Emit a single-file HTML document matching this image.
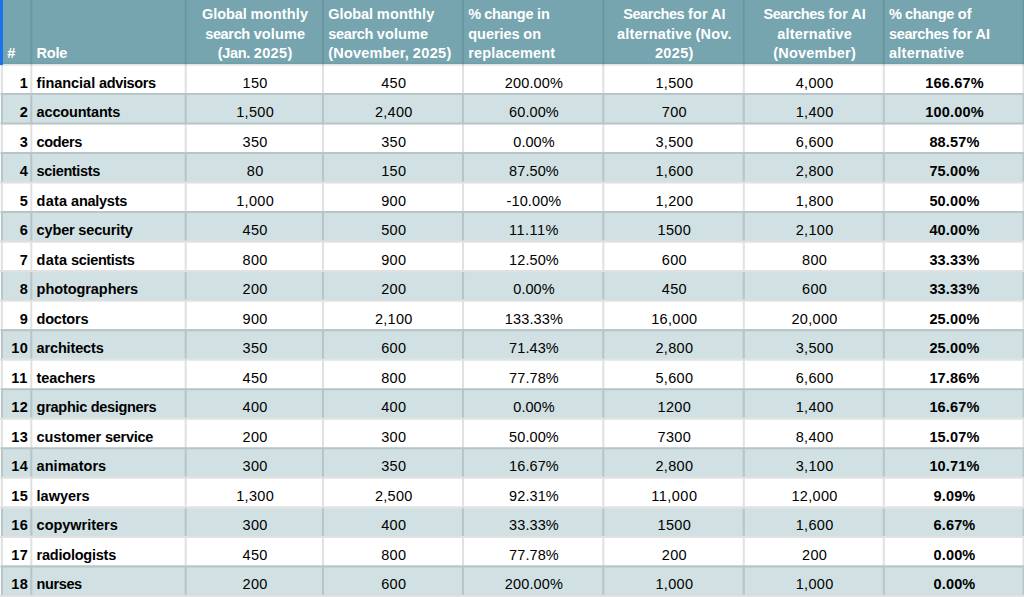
<!DOCTYPE html>
<html lang="en"><head><meta charset="utf-8"><title>AI replacement searches by role</title>
<style>
html,body{margin:0;padding:0;background:#fff;}
body{width:1024px;height:597px;overflow:hidden;position:relative;font-family:"Liberation Sans",Arial,sans-serif;color:#000;}
#sheet{position:absolute;left:0;top:0;width:1024px;height:597px;overflow:hidden;}
.sel{position:absolute;left:0;top:0;width:2.85px;height:65.4px;background:#1a73e8;}
#grid{position:absolute;left:0;top:0;}
.c{position:absolute;white-space:nowrap;height:20px;line-height:20px;font-size:14.5px;}
.b{font-weight:bold;font-size:14.5px;}
.ctr{text-align:center;}
.rgt{text-align:right;}
.h{position:absolute;color:#fff;font-weight:bold;font-size:14.5px;line-height:20px;height:20px;white-space:nowrap;}

</style></head><body><div id="sheet" role="table" aria-label="Searches about AI replacing roles">
<svg id="grid" aria-hidden="true" width="1024" height="597" viewBox="0 0 1024 597"><rect x="0" y="0" width="1024" height="64.0" fill="#76a5af"/><rect x="0.95" y="92.92" width="1024" height="31.62" fill="#d0e0e3"/><rect x="0.95" y="151.97" width="1024" height="29.53" fill="#d0e0e3"/><rect x="0.95" y="211.02" width="1024" height="29.52" fill="#d0e0e3"/><rect x="0.95" y="272.18" width="1024" height="27.42" fill="#d0e0e3"/><rect x="0.95" y="329.12" width="1024" height="29.53" fill="#d0e0e3"/><rect x="0.95" y="388.17" width="1024" height="29.52" fill="#d0e0e3"/><rect x="0.95" y="447.22" width="1024" height="29.52" fill="#d0e0e3"/><rect x="0.95" y="508.38" width="1024" height="27.43" fill="#d0e0e3"/><rect x="0.95" y="565.33" width="1024" height="29.52" fill="#d0e0e3"/><rect x="0" y="62.5" width="1024" height="1.6" fill="#000" fill-opacity="0.035"/><rect x="0" y="64.0" width="1024" height="1.65" fill="#e5e4e4"/><path d="M0 92.92h1024v2.10h-1024zM0 122.45h1024v2.10h-1024zM0 151.97h1024v2.10h-1024zM0 181.50h1024v2.10h-1024zM0 211.02h1024v2.10h-1024zM0 240.55h1024v2.10h-1024zM0 270.07h1024v2.10h-1024zM0 299.60h1024v2.10h-1024zM0 329.12h1024v2.10h-1024zM0 358.65h1024v2.10h-1024zM0 388.17h1024v2.10h-1024zM0 417.70h1024v2.10h-1024zM0 447.22h1024v2.10h-1024zM0 476.75h1024v2.10h-1024zM0 506.27h1024v2.10h-1024zM0 535.80h1024v2.10h-1024zM0 565.33h1024v2.10h-1024zM0 594.85h1024v2.10h-1024zM0.85 64h2.10v533h-2.10zM30.25 64h2.10v533h-2.10zM184.65 64h2.10v533h-2.10zM321.95 64h2.10v533h-2.10zM461.95 64h2.10v533h-2.10zM602.25 64h2.10v533h-2.10zM742.75 64h2.10v533h-2.10zM882.75 64h2.10v533h-2.10zM1022.55 64h2.10v533h-2.10z" fill="#000" fill-opacity="0.118"/><path d="M0.85 0h2.10v64h-2.10zM30.25 0h2.10v64h-2.10zM184.65 0h2.10v64h-2.10zM321.95 0h2.10v64h-2.10zM461.95 0h2.10v64h-2.10zM602.25 0h2.10v64h-2.10zM742.75 0h2.10v64h-2.10zM882.75 0h2.10v64h-2.10zM1022.55 0h2.10v64h-2.10z" fill="#000" fill-opacity="0.085"/></svg>
<div class="sel"></div>
<div role="row">
<div role="columnheader">
<div class="h" style="left:7.20px;top:43.08px;letter-spacing:0.19px;">#</div>
</div>
<div role="columnheader">
<div class="h" style="left:36.60px;top:43.08px;letter-spacing:-0.25px;">Role</div>
</div>
<div role="columnheader">
<div class="h" style="left:186.50px;width:137.30px;text-align:center;top:4.18px;word-spacing:-0.27px;"><span style="letter-spacing:-0.06px">Global</span> <span style="letter-spacing:0.20px">monthly</span></div>
<div class="h" style="left:186.50px;width:137.30px;text-align:center;top:24.08px;word-spacing:-0.27px;"><span style="letter-spacing:-0.34px">search</span> <span style="letter-spacing:0.12px">volume</span></div>
<div class="h" style="left:186.50px;width:137.30px;text-align:center;top:43.08px;word-spacing:-0.27px;"><span style="letter-spacing:-0.32px">(Jan.</span> <span style="letter-spacing:0.35px">2025)</span></div>
</div>
<div role="columnheader">
<div class="h" style="left:328.30px;top:4.18px;word-spacing:-0.27px;"><span style="letter-spacing:-0.06px">Global</span> <span style="letter-spacing:0.20px">monthly</span></div>
<div class="h" style="left:328.30px;top:24.08px;word-spacing:-0.27px;"><span style="letter-spacing:-0.34px">search</span> <span style="letter-spacing:0.12px">volume</span></div>
<div class="h" style="left:328.30px;top:43.08px;word-spacing:-0.27px;"><span style="letter-spacing:0.18px">(November,</span> <span style="letter-spacing:0.35px">2025)</span></div>
</div>
<div role="columnheader">
<div class="h" style="left:468.30px;top:4.18px;word-spacing:-0.27px;"><span style="letter-spacing:-0.79px">%</span> <span style="letter-spacing:-0.29px">change</span> <span style="letter-spacing:0.05px">in</span></div>
<div class="h" style="left:468.30px;top:24.08px;word-spacing:-0.27px;"><span style="letter-spacing:-0.06px">queries</span> <span style="letter-spacing:0.06px">on</span></div>
<div class="h" style="left:468.30px;top:43.08px;letter-spacing:0.14px;">replacement</div>
</div>
<div role="columnheader">
<div class="h" style="left:604.10px;width:140.50px;text-align:center;top:4.18px;word-spacing:-0.27px;"><span style="letter-spacing:-0.45px">Searches</span> <span style="letter-spacing:0.16px">for</span> AI</div>
<div class="h" style="left:604.10px;width:140.50px;text-align:center;top:24.08px;word-spacing:-0.27px;"><span style="letter-spacing:0.21px">alternative</span> <span style="letter-spacing:0.19px">(Nov.</span></div>
<div class="h" style="left:604.10px;width:140.50px;text-align:center;top:43.08px;letter-spacing:0.35px;">2025)</div>
</div>
<div role="columnheader">
<div class="h" style="left:744.60px;width:140.00px;text-align:center;top:4.18px;word-spacing:-0.27px;"><span style="letter-spacing:-0.45px">Searches</span> <span style="letter-spacing:0.16px">for</span> AI</div>
<div class="h" style="left:744.60px;width:140.00px;text-align:center;top:24.08px;letter-spacing:0.21px;">alternative</div>
<div class="h" style="left:744.60px;width:140.00px;text-align:center;top:43.08px;letter-spacing:0.23px;">(November)</div>
</div>
<div role="columnheader">
<div class="h" style="left:889.10px;top:4.18px;word-spacing:-0.27px;"><span style="letter-spacing:-0.79px">%</span> <span style="letter-spacing:-0.29px">change</span> <span style="letter-spacing:0.25px">of</span></div>
<div class="h" style="left:889.10px;top:24.08px;word-spacing:-0.27px;"><span style="letter-spacing:-0.40px">searches</span> <span style="letter-spacing:0.16px">for</span> AI</div>
<div class="h" style="left:889.10px;top:43.08px;letter-spacing:0.21px;">alternative</div>
</div>
</div>
<div role="row">
<div role="cell" class="c b rgt" style="left:2.40px;width:25.80px;top:72.58px;letter-spacing:0.34px;">1</div>
<div role="cell" class="c b" style="left:36.60px;top:72.58px;word-spacing:-0.27px;"><span style="letter-spacing:-0.03px">financial</span> <span style="letter-spacing:-0.34px">advisors</span></div>
<div role="cell" class="c ctr" style="left:186.50px;width:137.30px;top:72.58px;letter-spacing:0.35px;">150</div>
<div role="cell" class="c ctr" style="left:323.80px;width:140.00px;top:72.58px;letter-spacing:0.35px;">450</div>
<div role="cell" class="c ctr" style="left:463.80px;width:140.30px;top:72.58px;letter-spacing:0.13px;">200.00%</div>
<div role="cell" class="c ctr" style="left:604.10px;width:140.50px;top:72.58px;letter-spacing:0.31px;">1,500</div>
<div role="cell" class="c ctr" style="left:744.60px;width:140.00px;top:72.58px;letter-spacing:0.31px;">4,000</div>
<div role="cell" class="c b ctr" style="left:884.60px;width:139.80px;top:72.58px;letter-spacing:0.20px;">166.67%</div>
</div>
<div role="row">
<div role="cell" class="c b rgt" style="left:2.40px;width:25.80px;top:102.08px;letter-spacing:0.34px;">2</div>
<div role="cell" class="c b" style="left:36.60px;top:102.08px;letter-spacing:-0.17px;">accountants</div>
<div role="cell" class="c ctr" style="left:186.50px;width:137.30px;top:102.08px;letter-spacing:0.31px;">1,500</div>
<div role="cell" class="c ctr" style="left:323.80px;width:140.00px;top:102.08px;letter-spacing:0.31px;">2,400</div>
<div role="cell" class="c ctr" style="left:463.80px;width:140.30px;top:102.08px;letter-spacing:0.09px;">60.00%</div>
<div role="cell" class="c ctr" style="left:604.10px;width:140.50px;top:102.08px;letter-spacing:0.35px;">700</div>
<div role="cell" class="c ctr" style="left:744.60px;width:140.00px;top:102.08px;letter-spacing:0.31px;">1,400</div>
<div role="cell" class="c b ctr" style="left:884.60px;width:139.80px;top:102.08px;letter-spacing:0.20px;">100.00%</div>
</div>
<div role="row">
<div role="cell" class="c b rgt" style="left:2.40px;width:25.80px;top:131.58px;letter-spacing:0.34px;">3</div>
<div role="cell" class="c b" style="left:36.60px;top:131.58px;letter-spacing:-0.36px;">coders</div>
<div role="cell" class="c ctr" style="left:186.50px;width:137.30px;top:131.58px;letter-spacing:0.35px;">350</div>
<div role="cell" class="c ctr" style="left:323.80px;width:140.00px;top:131.58px;letter-spacing:0.35px;">350</div>
<div role="cell" class="c ctr" style="left:463.80px;width:140.30px;top:131.58px;letter-spacing:0.04px;">0.00%</div>
<div role="cell" class="c ctr" style="left:604.10px;width:140.50px;top:131.58px;letter-spacing:0.31px;">3,500</div>
<div role="cell" class="c ctr" style="left:744.60px;width:140.00px;top:131.58px;letter-spacing:0.31px;">6,600</div>
<div role="cell" class="c b ctr" style="left:884.60px;width:139.80px;top:131.58px;letter-spacing:0.17px;">88.57%</div>
</div>
<div role="row">
<div role="cell" class="c b rgt" style="left:2.40px;width:25.80px;top:161.08px;letter-spacing:0.34px;">4</div>
<div role="cell" class="c b" style="left:36.60px;top:161.08px;letter-spacing:-0.36px;">scientists</div>
<div role="cell" class="c ctr" style="left:186.50px;width:137.30px;top:161.08px;letter-spacing:0.35px;">80</div>
<div role="cell" class="c ctr" style="left:323.80px;width:140.00px;top:161.08px;letter-spacing:0.35px;">150</div>
<div role="cell" class="c ctr" style="left:463.80px;width:140.30px;top:161.08px;letter-spacing:0.09px;">87.50%</div>
<div role="cell" class="c ctr" style="left:604.10px;width:140.50px;top:161.08px;letter-spacing:0.31px;">1,600</div>
<div role="cell" class="c ctr" style="left:744.60px;width:140.00px;top:161.08px;letter-spacing:0.31px;">2,800</div>
<div role="cell" class="c b ctr" style="left:884.60px;width:139.80px;top:161.08px;letter-spacing:0.17px;">75.00%</div>
</div>
<div role="row">
<div role="cell" class="c b rgt" style="left:2.40px;width:25.80px;top:190.58px;letter-spacing:0.34px;">5</div>
<div role="cell" class="c b" style="left:36.60px;top:190.58px;word-spacing:-0.27px;"><span style="letter-spacing:0.23px">data</span> <span style="letter-spacing:-0.26px">analysts</span></div>
<div role="cell" class="c ctr" style="left:186.50px;width:137.30px;top:190.58px;letter-spacing:0.31px;">1,000</div>
<div role="cell" class="c ctr" style="left:323.80px;width:140.00px;top:190.58px;letter-spacing:0.35px;">900</div>
<div role="cell" class="c ctr" style="left:463.80px;width:140.30px;top:190.58px;letter-spacing:0.11px;">-10.00%</div>
<div role="cell" class="c ctr" style="left:604.10px;width:140.50px;top:190.58px;letter-spacing:0.31px;">1,200</div>
<div role="cell" class="c ctr" style="left:744.60px;width:140.00px;top:190.58px;letter-spacing:0.31px;">1,800</div>
<div role="cell" class="c b ctr" style="left:884.60px;width:139.80px;top:190.58px;letter-spacing:0.17px;">50.00%</div>
</div>
<div role="row">
<div role="cell" class="c b rgt" style="left:2.40px;width:25.80px;top:220.08px;letter-spacing:0.34px;">6</div>
<div role="cell" class="c b" style="left:36.60px;top:220.08px;word-spacing:-0.27px;"><span style="letter-spacing:-0.14px">cyber</span> <span style="letter-spacing:-0.15px">security</span></div>
<div role="cell" class="c ctr" style="left:186.50px;width:137.30px;top:220.08px;letter-spacing:0.35px;">450</div>
<div role="cell" class="c ctr" style="left:323.80px;width:140.00px;top:220.08px;letter-spacing:0.35px;">500</div>
<div role="cell" class="c ctr" style="left:463.80px;width:140.30px;top:220.08px;letter-spacing:0.45px;">11.11%</div>
<div role="cell" class="c ctr" style="left:604.10px;width:140.50px;top:220.08px;letter-spacing:0.35px;">1500</div>
<div role="cell" class="c ctr" style="left:744.60px;width:140.00px;top:220.08px;letter-spacing:0.31px;">2,100</div>
<div role="cell" class="c b ctr" style="left:884.60px;width:139.80px;top:220.08px;letter-spacing:0.17px;">40.00%</div>
</div>
<div role="row">
<div role="cell" class="c b rgt" style="left:2.40px;width:25.80px;top:249.58px;letter-spacing:0.34px;">7</div>
<div role="cell" class="c b" style="left:36.60px;top:249.58px;word-spacing:-0.27px;"><span style="letter-spacing:0.23px">data</span> <span style="letter-spacing:-0.36px">scientists</span></div>
<div role="cell" class="c ctr" style="left:186.50px;width:137.30px;top:249.58px;letter-spacing:0.35px;">800</div>
<div role="cell" class="c ctr" style="left:323.80px;width:140.00px;top:249.58px;letter-spacing:0.35px;">900</div>
<div role="cell" class="c ctr" style="left:463.80px;width:140.30px;top:249.58px;letter-spacing:0.09px;">12.50%</div>
<div role="cell" class="c ctr" style="left:604.10px;width:140.50px;top:249.58px;letter-spacing:0.35px;">600</div>
<div role="cell" class="c ctr" style="left:744.60px;width:140.00px;top:249.58px;letter-spacing:0.35px;">800</div>
<div role="cell" class="c b ctr" style="left:884.60px;width:139.80px;top:249.58px;letter-spacing:0.17px;">33.33%</div>
</div>
<div role="row">
<div role="cell" class="c b rgt" style="left:2.40px;width:25.80px;top:279.08px;letter-spacing:0.34px;">8</div>
<div role="cell" class="c b" style="left:36.60px;top:279.08px;letter-spacing:-0.07px;">photographers</div>
<div role="cell" class="c ctr" style="left:186.50px;width:137.30px;top:279.08px;letter-spacing:0.35px;">200</div>
<div role="cell" class="c ctr" style="left:323.80px;width:140.00px;top:279.08px;letter-spacing:0.35px;">200</div>
<div role="cell" class="c ctr" style="left:463.80px;width:140.30px;top:279.08px;letter-spacing:0.04px;">0.00%</div>
<div role="cell" class="c ctr" style="left:604.10px;width:140.50px;top:279.08px;letter-spacing:0.35px;">450</div>
<div role="cell" class="c ctr" style="left:744.60px;width:140.00px;top:279.08px;letter-spacing:0.35px;">600</div>
<div role="cell" class="c b ctr" style="left:884.60px;width:139.80px;top:279.08px;letter-spacing:0.17px;">33.33%</div>
</div>
<div role="row">
<div role="cell" class="c b rgt" style="left:2.40px;width:25.80px;top:308.58px;letter-spacing:0.34px;">9</div>
<div role="cell" class="c b" style="left:36.60px;top:308.58px;letter-spacing:-0.22px;">doctors</div>
<div role="cell" class="c ctr" style="left:186.50px;width:137.30px;top:308.58px;letter-spacing:0.35px;">900</div>
<div role="cell" class="c ctr" style="left:323.80px;width:140.00px;top:308.58px;letter-spacing:0.31px;">2,100</div>
<div role="cell" class="c ctr" style="left:463.80px;width:140.30px;top:308.58px;letter-spacing:0.13px;">133.33%</div>
<div role="cell" class="c ctr" style="left:604.10px;width:140.50px;top:308.58px;letter-spacing:0.31px;">16,000</div>
<div role="cell" class="c ctr" style="left:744.60px;width:140.00px;top:308.58px;letter-spacing:0.31px;">20,000</div>
<div role="cell" class="c b ctr" style="left:884.60px;width:139.80px;top:308.58px;letter-spacing:0.17px;">25.00%</div>
</div>
<div role="row">
<div role="cell" class="c b rgt" style="left:2.40px;width:25.80px;top:338.08px;letter-spacing:0.35px;">10</div>
<div role="cell" class="c b" style="left:36.60px;top:338.08px;letter-spacing:-0.15px;">architects</div>
<div role="cell" class="c ctr" style="left:186.50px;width:137.30px;top:338.08px;letter-spacing:0.35px;">350</div>
<div role="cell" class="c ctr" style="left:323.80px;width:140.00px;top:338.08px;letter-spacing:0.35px;">600</div>
<div role="cell" class="c ctr" style="left:463.80px;width:140.30px;top:338.08px;letter-spacing:0.09px;">71.43%</div>
<div role="cell" class="c ctr" style="left:604.10px;width:140.50px;top:338.08px;letter-spacing:0.31px;">2,800</div>
<div role="cell" class="c ctr" style="left:744.60px;width:140.00px;top:338.08px;letter-spacing:0.31px;">3,500</div>
<div role="cell" class="c b ctr" style="left:884.60px;width:139.80px;top:338.08px;letter-spacing:0.17px;">25.00%</div>
</div>
<div role="row">
<div role="cell" class="c b rgt" style="left:2.40px;width:25.80px;top:367.58px;letter-spacing:0.75px;">11</div>
<div role="cell" class="c b" style="left:36.60px;top:367.58px;letter-spacing:-0.12px;">teachers</div>
<div role="cell" class="c ctr" style="left:186.50px;width:137.30px;top:367.58px;letter-spacing:0.35px;">450</div>
<div role="cell" class="c ctr" style="left:323.80px;width:140.00px;top:367.58px;letter-spacing:0.35px;">800</div>
<div role="cell" class="c ctr" style="left:463.80px;width:140.30px;top:367.58px;letter-spacing:0.09px;">77.78%</div>
<div role="cell" class="c ctr" style="left:604.10px;width:140.50px;top:367.58px;letter-spacing:0.31px;">5,600</div>
<div role="cell" class="c ctr" style="left:744.60px;width:140.00px;top:367.58px;letter-spacing:0.31px;">6,600</div>
<div role="cell" class="c b ctr" style="left:884.60px;width:139.80px;top:367.58px;letter-spacing:0.17px;">17.86%</div>
</div>
<div role="row">
<div role="cell" class="c b rgt" style="left:2.40px;width:25.80px;top:397.08px;letter-spacing:0.35px;">12</div>
<div role="cell" class="c b" style="left:36.60px;top:397.08px;word-spacing:-0.27px;"><span style="letter-spacing:-0.27px">graphic</span> <span style="letter-spacing:-0.34px">designers</span></div>
<div role="cell" class="c ctr" style="left:186.50px;width:137.30px;top:397.08px;letter-spacing:0.35px;">400</div>
<div role="cell" class="c ctr" style="left:323.80px;width:140.00px;top:397.08px;letter-spacing:0.35px;">400</div>
<div role="cell" class="c ctr" style="left:463.80px;width:140.30px;top:397.08px;letter-spacing:0.04px;">0.00%</div>
<div role="cell" class="c ctr" style="left:604.10px;width:140.50px;top:397.08px;letter-spacing:0.35px;">1200</div>
<div role="cell" class="c ctr" style="left:744.60px;width:140.00px;top:397.08px;letter-spacing:0.31px;">1,400</div>
<div role="cell" class="c b ctr" style="left:884.60px;width:139.80px;top:397.08px;letter-spacing:0.17px;">16.67%</div>
</div>
<div role="row">
<div role="cell" class="c b rgt" style="left:2.40px;width:25.80px;top:426.58px;letter-spacing:0.35px;">13</div>
<div role="cell" class="c b" style="left:36.60px;top:426.58px;word-spacing:-0.27px;"><span style="letter-spacing:-0.09px">customer</span> <span style="letter-spacing:-0.25px">service</span></div>
<div role="cell" class="c ctr" style="left:186.50px;width:137.30px;top:426.58px;letter-spacing:0.35px;">200</div>
<div role="cell" class="c ctr" style="left:323.80px;width:140.00px;top:426.58px;letter-spacing:0.35px;">300</div>
<div role="cell" class="c ctr" style="left:463.80px;width:140.30px;top:426.58px;letter-spacing:0.09px;">50.00%</div>
<div role="cell" class="c ctr" style="left:604.10px;width:140.50px;top:426.58px;letter-spacing:0.35px;">7300</div>
<div role="cell" class="c ctr" style="left:744.60px;width:140.00px;top:426.58px;letter-spacing:0.31px;">8,400</div>
<div role="cell" class="c b ctr" style="left:884.60px;width:139.80px;top:426.58px;letter-spacing:0.17px;">15.07%</div>
</div>
<div role="row">
<div role="cell" class="c b rgt" style="left:2.40px;width:25.80px;top:456.08px;letter-spacing:0.35px;">14</div>
<div role="cell" class="c b" style="left:36.60px;top:456.08px;letter-spacing:0.03px;">animators</div>
<div role="cell" class="c ctr" style="left:186.50px;width:137.30px;top:456.08px;letter-spacing:0.35px;">300</div>
<div role="cell" class="c ctr" style="left:323.80px;width:140.00px;top:456.08px;letter-spacing:0.35px;">350</div>
<div role="cell" class="c ctr" style="left:463.80px;width:140.30px;top:456.08px;letter-spacing:0.09px;">16.67%</div>
<div role="cell" class="c ctr" style="left:604.10px;width:140.50px;top:456.08px;letter-spacing:0.31px;">2,800</div>
<div role="cell" class="c ctr" style="left:744.60px;width:140.00px;top:456.08px;letter-spacing:0.31px;">3,100</div>
<div role="cell" class="c b ctr" style="left:884.60px;width:139.80px;top:456.08px;letter-spacing:0.17px;">10.71%</div>
</div>
<div role="row">
<div role="cell" class="c b rgt" style="left:2.40px;width:25.80px;top:485.58px;letter-spacing:0.35px;">15</div>
<div role="cell" class="c b" style="left:36.60px;top:485.58px;letter-spacing:-0.03px;">lawyers</div>
<div role="cell" class="c ctr" style="left:186.50px;width:137.30px;top:485.58px;letter-spacing:0.31px;">1,300</div>
<div role="cell" class="c ctr" style="left:323.80px;width:140.00px;top:485.58px;letter-spacing:0.31px;">2,500</div>
<div role="cell" class="c ctr" style="left:463.80px;width:140.30px;top:485.58px;letter-spacing:0.09px;">92.31%</div>
<div role="cell" class="c ctr" style="left:604.10px;width:140.50px;top:485.58px;letter-spacing:0.49px;">11,000</div>
<div role="cell" class="c ctr" style="left:744.60px;width:140.00px;top:485.58px;letter-spacing:0.31px;">12,000</div>
<div role="cell" class="c b ctr" style="left:884.60px;width:139.80px;top:485.58px;letter-spacing:0.13px;">9.09%</div>
</div>
<div role="row">
<div role="cell" class="c b rgt" style="left:2.40px;width:25.80px;top:515.08px;letter-spacing:0.35px;">16</div>
<div role="cell" class="c b" style="left:36.60px;top:515.08px;letter-spacing:-0.02px;">copywriters</div>
<div role="cell" class="c ctr" style="left:186.50px;width:137.30px;top:515.08px;letter-spacing:0.35px;">300</div>
<div role="cell" class="c ctr" style="left:323.80px;width:140.00px;top:515.08px;letter-spacing:0.35px;">400</div>
<div role="cell" class="c ctr" style="left:463.80px;width:140.30px;top:515.08px;letter-spacing:0.09px;">33.33%</div>
<div role="cell" class="c ctr" style="left:604.10px;width:140.50px;top:515.08px;letter-spacing:0.35px;">1500</div>
<div role="cell" class="c ctr" style="left:744.60px;width:140.00px;top:515.08px;letter-spacing:0.31px;">1,600</div>
<div role="cell" class="c b ctr" style="left:884.60px;width:139.80px;top:515.08px;letter-spacing:0.13px;">6.67%</div>
</div>
<div role="row">
<div role="cell" class="c b rgt" style="left:2.40px;width:25.80px;top:544.58px;letter-spacing:0.35px;">17</div>
<div role="cell" class="c b" style="left:36.60px;top:544.58px;letter-spacing:-0.23px;">radiologists</div>
<div role="cell" class="c ctr" style="left:186.50px;width:137.30px;top:544.58px;letter-spacing:0.35px;">450</div>
<div role="cell" class="c ctr" style="left:323.80px;width:140.00px;top:544.58px;letter-spacing:0.35px;">800</div>
<div role="cell" class="c ctr" style="left:463.80px;width:140.30px;top:544.58px;letter-spacing:0.09px;">77.78%</div>
<div role="cell" class="c ctr" style="left:604.10px;width:140.50px;top:544.58px;letter-spacing:0.35px;">200</div>
<div role="cell" class="c ctr" style="left:744.60px;width:140.00px;top:544.58px;letter-spacing:0.35px;">200</div>
<div role="cell" class="c b ctr" style="left:884.60px;width:139.80px;top:544.58px;letter-spacing:0.13px;">0.00%</div>
</div>
<div role="row">
<div role="cell" class="c b rgt" style="left:2.40px;width:25.80px;top:574.08px;letter-spacing:0.35px;">18</div>
<div role="cell" class="c b" style="left:36.60px;top:574.08px;letter-spacing:-0.40px;">nurses</div>
<div role="cell" class="c ctr" style="left:186.50px;width:137.30px;top:574.08px;letter-spacing:0.35px;">200</div>
<div role="cell" class="c ctr" style="left:323.80px;width:140.00px;top:574.08px;letter-spacing:0.35px;">600</div>
<div role="cell" class="c ctr" style="left:463.80px;width:140.30px;top:574.08px;letter-spacing:0.13px;">200.00%</div>
<div role="cell" class="c ctr" style="left:604.10px;width:140.50px;top:574.08px;letter-spacing:0.31px;">1,000</div>
<div role="cell" class="c ctr" style="left:744.60px;width:140.00px;top:574.08px;letter-spacing:0.31px;">1,000</div>
<div role="cell" class="c b ctr" style="left:884.60px;width:139.80px;top:574.08px;letter-spacing:0.13px;">0.00%</div>
</div>
</div></body></html>
